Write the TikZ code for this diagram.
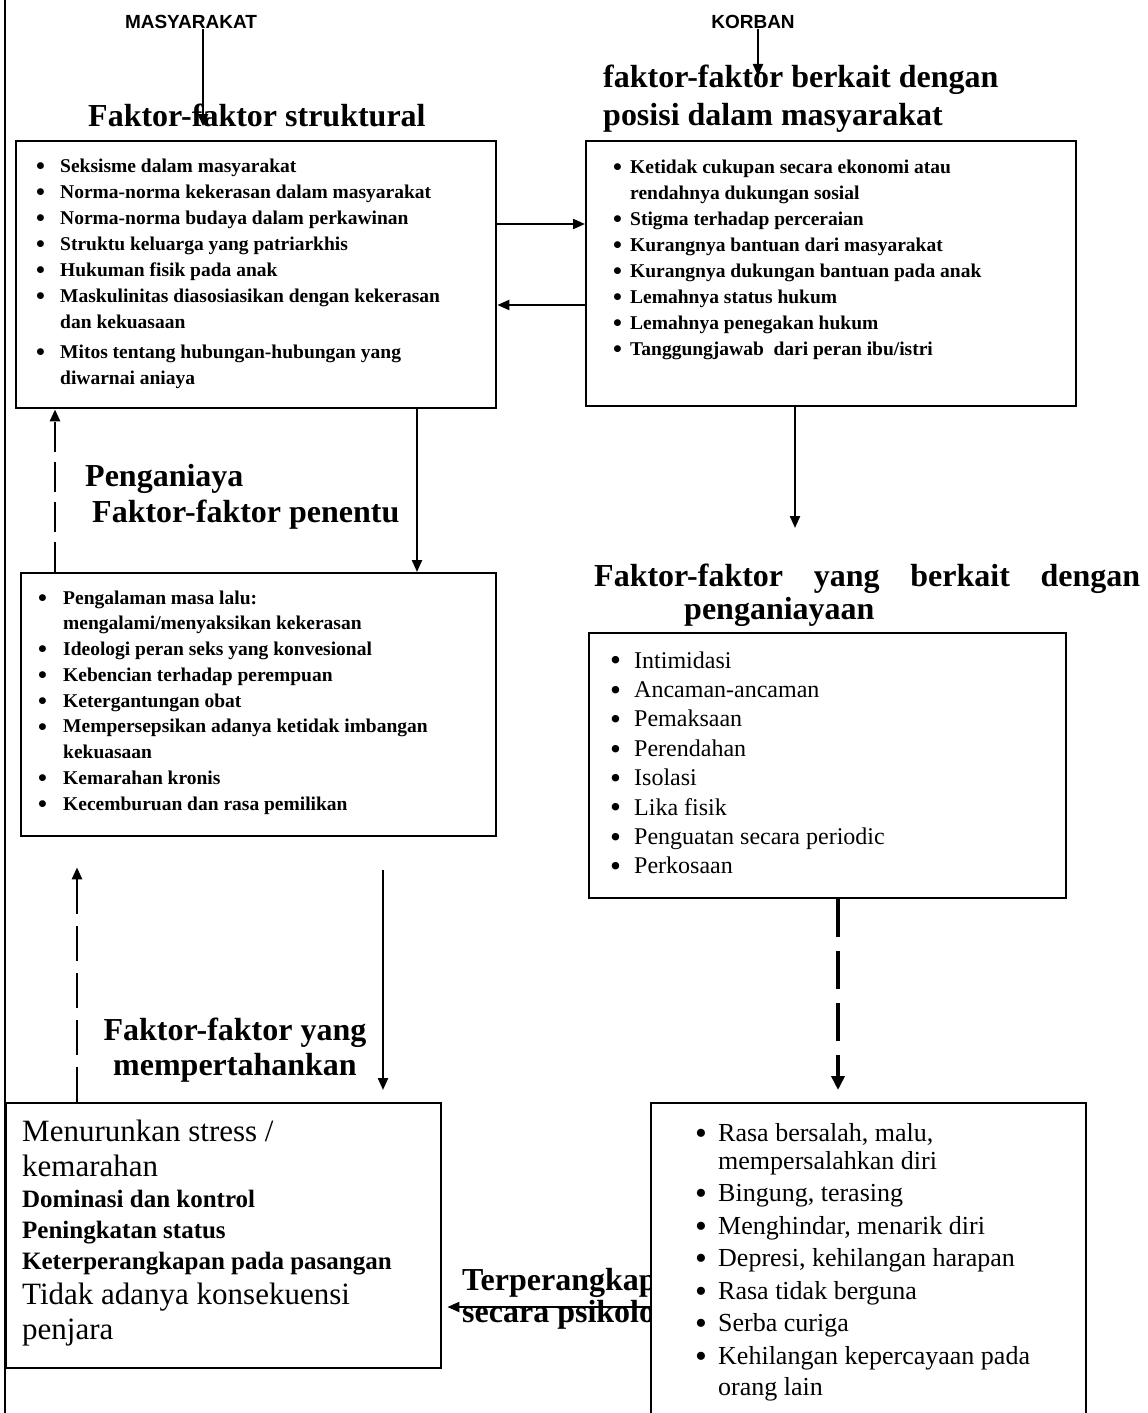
\documentclass[tikz,border=0pt]{standalone}
\usepackage{fontspec}
\setmainfont{Liberation Serif}
\newfontfamily\capsfont{Liberation Sans}
\usetikzlibrary{positioning,arrows.meta}

\newcommand{\bul}[1]{\makebox[#1][l]{\raisebox{-0.11em}{\scalebox{1.3}{\textbullet}}}}

\begin{document}
\begin{tikzpicture}[x=1pt, y=-1pt,
  >={Triangle[length=12pt,width=10pt]},
  frame/.style={draw, line width=2.4pt, inner sep=0pt, anchor=north west},
  boxtext/.style={anchor=north west, align=left, inner sep=0pt},
  heading/.style={anchor=north west, align=left, inner sep=0pt,
    font=\fontsize{32}{36}\selectfont\bfseries},
  tag/.style={inner sep=0pt, font=\capsfont\fontsize{19}{22}\selectfont\bfseries},
  flow/.style={->, line width=2.2pt},
  dashflow/.style={->, line width=2.6pt, dash pattern=on 30pt off 10pt},
  heavydash/.style={-{Triangle[length=14pt,width=13pt]}, line width=4.5pt, dash pattern=on 38pt off 14pt}]
  \useasboundingbox (0,0) rectangle (1148,1413);
  \clip (0,0) rectangle (1148,1413);

  % Left rule
  \draw[line width=2.4pt] (5,0) -- (5,1413);

  % Sources
  \node[tag] (masy) at (191,22) {MASYARAKAT};
  \node[tag] (korban) at (753,22) {KORBAN};

  % Headings
  \node[heading] (titleA) at (88,100.8) {\strut Faktor-faktor struktural};
  \node[heading] (titleB) at (603,61.8) {\strut faktor-faktor berkait dengan\\[2pt]
    posisi dalam masyarakat};
  \node[heading] (titleC) at (85,460.8) {\strut Penganiaya\\
    \hspace*{7pt}Faktor-faktor penentu};
  \node[heading] (titleD) at (594,560.8) {\strut\makebox[546pt][s]{Faktor-faktor yang berkait dengan}\\[-3pt]
    \hspace*{90pt}penganiayaan};
  \node[heading, anchor=north, align=center] (titleF) at (235,1014.8) {\strut Faktor-faktor yang\\[-1pt]
    mempertahankan};
  \node[heading] (trap) at (462,1264.8) {\strut Terperangkap\\[-4pt]
    secara psikologis};

  % Boxes
  \node[frame, minimum width=480pt, minimum height=267pt] (boxA) at (15,140) {};
  \node[frame, minimum width=490pt, minimum height=265pt] (boxB) at (585,140) {};
  \node[frame, minimum width=475pt, minimum height=263pt] (boxC) at (20,572) {};
  \node[frame, minimum width=477pt, minimum height=265pt] (boxD) at (588,632) {};
  \node[frame, minimum width=435pt, minimum height=265pt] (boxF) at (5,1102) {};
  \node[frame, fill=white, minimum width=435pt, minimum height=340pt] (boxE) at (650,1102) {};

  % Box texts
  \node[boxtext, font=\fontsize{19.5}{26}\selectfont\bfseries] (listA)
    at ([shift={(21,13.8)}]boxA.north west) {%
    \strut\bul{24pt}Seksisme dalam masyarakat\\
    \bul{24pt}Norma-norma kekerasan dalam masyarakat\\
    \bul{24pt}Norma-norma budaya dalam perkawinan\\
    \bul{24pt}Struktu keluarga yang patriarkhis\\
    \bul{24pt}Hukuman fisik pada anak\\
    \bul{24pt}Maskulinitas diasosiasikan dengan kekerasan\\
    \hspace*{24pt}dan kekuasaan\\[4pt]
    \bul{24pt}Mitos tentang hubungan-hubungan yang\\
    \hspace*{24pt}diwarnai aniaya};
  \node[boxtext, font=\fontsize{19.5}{26}\selectfont\bfseries] (listB)
    at ([shift={(28,14.8)}]boxB.north west) {%
    \strut\bul{17pt}Ketidak cukupan secara ekonomi atau\\
    \hspace*{17pt}rendahnya dukungan sosial\\
    \bul{17pt}Stigma terhadap perceraian\\
    \bul{17pt}Kurangnya bantuan dari masyarakat\\
    \bul{17pt}Kurangnya dukungan bantuan pada anak\\
    \bul{17pt}Lemahnya status hukum\\
    \bul{17pt}Lemahnya penegakan hukum\\
    \bul{17pt}Tanggungjawab\ \ dari peran ibu/istri};
  \node[boxtext, font=\fontsize{19.5}{25.75}\selectfont\bfseries] (listC)
    at ([shift={(18,14)}]boxC.north west) {%
    \strut\bul{25pt}Pengalaman masa lalu:\\
    \hspace*{25pt}mengalami/menyaksikan kekerasan\\
    \bul{25pt}Ideologi peran seks yang konvesional\\
    \bul{25pt}Kebencian terhadap perempuan\\
    \bul{25pt}Ketergantungan obat\\
    \bul{25pt}Mempersepsikan adanya ketidak imbangan\\
    \hspace*{25pt}kekuasaan\\
    \bul{25pt}Kemarahan kronis\\
    \bul{25pt}Kecemburuan dan rasa pemilikan};
  \node[boxtext, font=\fontsize{24}{29.4}\selectfont] (listD)
    at ([shift={(22,15.4)}]boxD.north west) {%
    \strut\bul{24pt}Intimidasi\\
    \bul{24pt}Ancaman-ancaman\\
    \bul{24pt}Pemaksaan\\
    \bul{24pt}Perendahan\\
    \bul{24pt}Isolasi\\
    \bul{24pt}Lika fisik\\
    \bul{24pt}Penguatan secara periodic\\
    \bul{24pt}Perkosaan};
  \node[boxtext, font=\fontsize{26}{32.5}\selectfont] (listE)
    at ([shift={(45,16.25)}]boxE.north west) {%
    \strut\bul{23pt}Rasa bersalah, malu,\\[-4.5pt]
    \hspace*{23pt}mempersalahkan diri\\
    \bul{23pt}Bingung, terasing\\
    \bul{23pt}Menghindar, menarik diri\\
    \bul{23pt}Depresi, kehilangan harapan\\
    \bul{23pt}Rasa tidak berguna\\
    \bul{23pt}Serba curiga\\
    \bul{23pt}Kehilangan kepercayaan pada\\[-1pt]
    \hspace*{23pt}orang lain};
  \node[boxtext, font=\fontsize{25}{31}\selectfont] (listF)
    at ([shift={(17,17.3)}]boxF.north west) {%
    \strut{\fontsize{31}{34}\selectfont Menurunkan stress /}\\[4pt]
    {\fontsize{31}{34}\selectfont kemarahan}\\
    {\bfseries Dominasi dan kontrol}\\
    {\bfseries Peningkatan status}\\
    {\bfseries Keterperangkapan pada pasangan}\\[4pt]
    {\fontsize{31}{34}\selectfont Tidak adanya konsekuensi}\\[4pt]
    {\fontsize{31}{34}\selectfont penjara}};

  % Arrow columns and rows
  \coordinate (upL) at (55,0);
  \coordinate (downL) at (417,0);
  \coordinate (downR) at (795,0);
  \coordinate (dashR) at (838,0);
  \coordinate (upL2) at (77,0);
  \coordinate (downL2) at (383,0);
  \coordinate (rowAB) at (0,224);
  \coordinate (rowBA) at (0,305);
  \coordinate (rowEF) at (0,1307);
  \coordinate (korbanEnd) at (758,76);
  \coordinate (downREnd) at (795,528);

  % Arrows
  \draw[flow] ([xshift=12pt]masy.south) -- ([xshift=12pt]masy.south |- titleA.base);
  \draw[flow] ([xshift=5pt]korban.south) -- (korbanEnd);
  \draw[flow] (boxA.east |- rowAB) -- (boxB.west |- rowAB);
  \draw[flow] (boxB.west |- rowBA) -- (boxA.east |- rowBA);
  \draw[flow] (boxA.south -| downL) -- (boxC.north -| downL);
  \draw[dashflow] (boxC.north -| upL) -- (boxA.south -| upL);
  \draw[flow] (boxB.south -| downR) -- (downREnd);
  \draw[heavydash, shorten >=12pt] (boxD.south -| dashR) -- (boxE.north -| dashR);
  \draw[dashflow, dash pattern=on 35pt off 12pt, shorten >=30pt] (boxF.north -| upL2) -- (boxC.south -| upL2);
  \draw[flow, shorten <=33pt, shorten >=12pt] (boxC.south -| downL2) -- (boxF.north -| downL2);
  \draw[flow, shorten >=5pt] (boxE.west |- rowEF) -- (boxF.east |- rowEF);
\end{tikzpicture}
\end{document}
